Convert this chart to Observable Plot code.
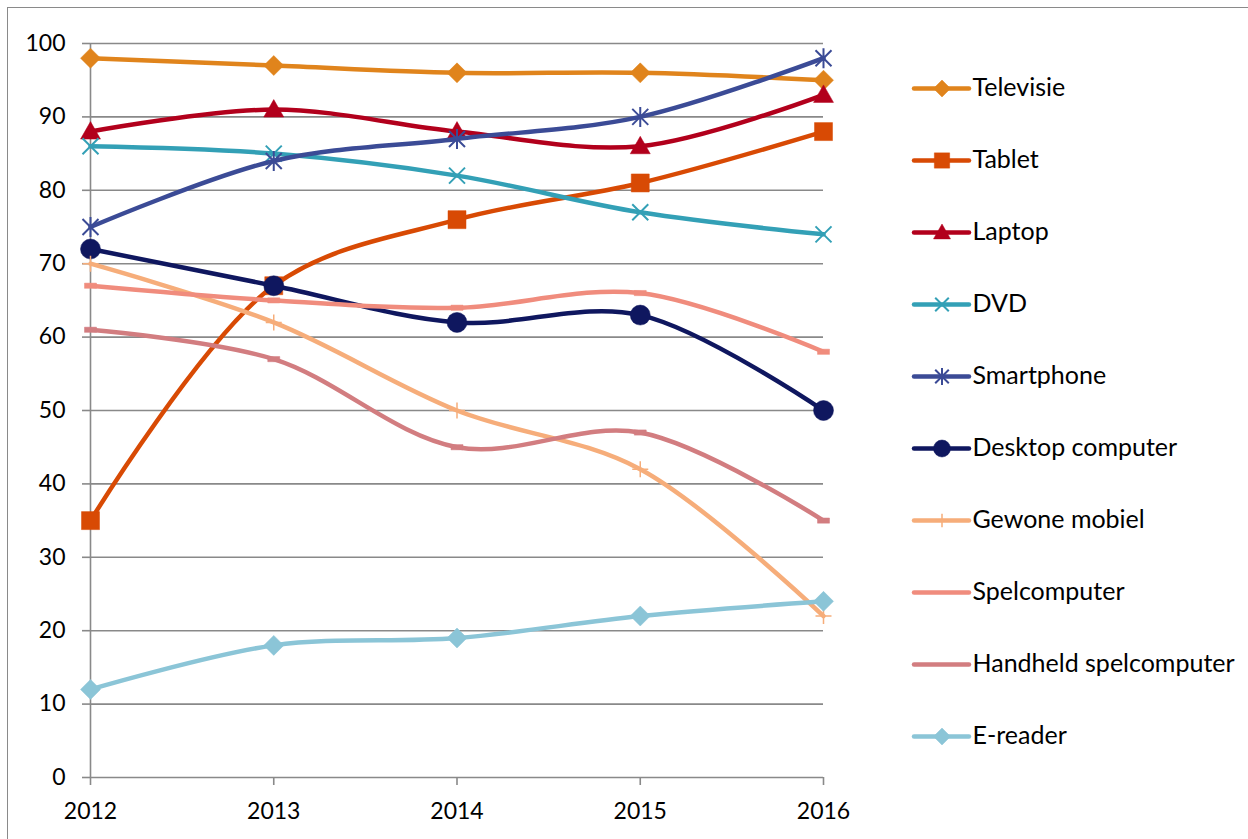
<!DOCTYPE html>
<html>
<head>
<meta charset="utf-8">
<script src="https://cdn.jsdelivr.net/npm/d3@7"></script>
<script src="https://cdn.jsdelivr.net/npm/@observablehq/plot@0.6"></script>
<style>
  html, body { margin: 0; padding: 0; background: #fff; }
  #wrap { position: relative; width: 1248px; height: 839px; overflow: hidden; background: #fff; }
  #frame { position: absolute; left: 7px; top: 7px; width: 1400px; height: 1000px; border-left: 1.5px solid #8a8a8a; border-top: 1.5px solid #8a8a8a; }
  #chart, #legend { position: absolute; top: 0; }
  #chart { left: 0; }
  #legend { left: 880px; }
  svg { font-family: Lato, "Open Sans", sans-serif; }
</style>
</head>
<body>
<div id="wrap"><div id="frame"></div><div id="chart"></div><div id="legend"></div></div>
<script>
// ---- data ----
const years = [2012, 2013, 2014, 2015, 2016];
const seriesNames = ["Televisie", "Tablet", "Laptop", "DVD", "Smartphone", "Desktop computer", "Gewone mobiel", "Spelcomputer", "Handheld spelcomputer", "E-reader"];
const televisie = [98, 97, 96, 96, 95];
const tablet = [35, 67, 76, 81, 88];
const laptop = [88, 91, 88, 86, 93];
const dvd = [86, 85, 82, 77, 74];
const smartphone = [75, 84, 87, 90, 98];
const desktop = [72, 67, 62, 63, 50];
const gewoneMobiel = [70, 62, 50, 42, 22];
const spelcomputer = [67, 65, 64, 66, 58];
const handheld = [61, 57, 45, 47, 35];
const eReader = [12, 18, 19, 22, 24];
const yTicks = [0, 10, 20, 30, 40, 50, 60, 70, 80, 90, 100];
const seriesValues = [televisie, tablet, laptop, dvd, smartphone, desktop, gewoneMobiel, spelcomputer, handheld, eReader];
const seriesColors = ["#E0841C", "#D84A04", "#B2001C", "#33A0B6", "#3B4B96", "#0F175F", "#F6AD7A", "#F08C7D", "#D27D80", "#8BC5D7"];

// ---- custom marker symbols ----
const R = s => Math.sqrt(s / Math.PI);
const diamond = {draw(c, s) { const r = R(s); c.moveTo(0, -r); c.lineTo(r, 0); c.lineTo(0, r); c.lineTo(-r, 0); c.closePath(); }};
const square = {draw(c, s) { const r = R(s); c.rect(-r, -r, 2 * r, 2 * r); }};
const triangle = {draw(c, s) { const r = R(s); c.moveTo(0, -r); c.lineTo(r, r * 0.75); c.lineTo(-r, r * 0.75); c.closePath(); }};
const times = {draw(c, s) { const r = R(s); c.moveTo(-r, -r); c.lineTo(r, r); c.moveTo(r, -r); c.lineTo(-r, r); }};
const asterisk = {draw(c, s) { const r = R(s); c.moveTo(-r, -r); c.lineTo(r, r); c.moveTo(r, -r); c.lineTo(-r, r); c.moveTo(0, -r * 1.25); c.lineTo(0, r * 1.25); }};
const circle = {draw(c, s) { const r = R(s); c.moveTo(r, 0); c.arc(0, 0, r, 0, 2 * Math.PI); }};
const plus = {draw(c, s) { const r = R(s); c.moveTo(-r, 0); c.lineTo(r, 0); c.moveTo(0, -r); c.lineTo(0, r); }};
const dash = {draw(c, s) { const r = R(s); c.rect(-r, -2.6, 2 * r, 5.2); }};

const markerStyle = [
  {symbol: diamond, r: 10, filled: true, legend: true},
  {symbol: square, r: 9, filled: true, legend: true},
  {symbol: triangle, r: 10, filled: true, legend: true},
  {symbol: times, r: 8, filled: false, sw: 2, legend: true},
  {symbol: asterisk, r: 8, filled: false, sw: 2, legend: true},
  {symbol: circle, r: 10, filled: true, legend: true},
  {symbol: plus, r: 8, filled: false, sw: 1.5, legend: true},
  {symbol: dash, r: 6, filled: true, legend: false},
  {symbol: dash, r: 6, filled: true, legend: false},
  {symbol: diamond, r: 10, filled: true, legend: true}
];

const rows = seriesNames.map((name, i) => years.map((year, j) => ({name, year, value: seriesValues[i][j]})));

const FS = 23;
const LFS = 25;
const gridColor = "#898989";

const marks = [
  Plot.ruleY(yTicks, {stroke: gridColor, strokeWidth: 1.6}),
  Plot.ruleX([2012], {y1: 0, y2: 100, stroke: gridColor, strokeWidth: 1.6}),
  Plot.axisY({ticks: yTicks, tickSize: 8, tickPadding: 17, fontSize: FS, stroke: gridColor, strokeWidth: 1.6, strokeOpacity: 1, label: null, fill: "#000"}),
  Plot.axisX({ticks: years, tickFormat: d3.format("d"), tickSize: 8, tickPadding: 17, fontSize: FS, stroke: gridColor, strokeWidth: 1.6, strokeOpacity: 1, label: null, fill: "#000"})
];
rows.forEach((data, i) => {
  const m = markerStyle[i];
  const col = seriesColors[i];
  marks.push(Plot.line(data, {x: "year", y: "value", stroke: col, strokeWidth: 4.5, curve: "catmull-rom", strokeLinecap: "round"}));
  marks.push(Plot.dot(data, {x: "year", y: "value", symbol: m.symbol, r: m.r,
    fill: m.filled ? col : "none", stroke: col, strokeWidth: m.filled ? 0.5 : m.sw}));
});

const chart = Plot.plot({
  width: 1248, height: 839,
  marginLeft: 90, marginRight: 425, marginTop: 43, marginBottom: 62,
  x: {domain: [2012, 2016]},
  y: {domain: [0, 100]},
  style: {background: "transparent", fontFamily: "Lato, 'Open Sans', sans-serif"},
  marks
});
document.getElementById("chart").appendChild(chart);

// ---- legend (separate Plot with its own scales) ----
const legendMarks = [];
seriesNames.forEach((name, i) => {
  const m = markerStyle[i];
  const col = seriesColors[i];
  legendMarks.push(Plot.ruleY([name], {x1: 0, x2: 1, stroke: col, strokeWidth: 4.5, strokeLinecap: "round"}));
  if (m.legend) legendMarks.push(Plot.dot([name], {x: 0.5, y: d => d, symbol: m.symbol, r: m.r * 0.85,
    fill: m.filled ? col : "none", stroke: col, strokeWidth: m.filled ? 0.5 : m.sw}));
  legendMarks.push(Plot.text([name], {x: 1, y: d => d, text: d => d, textAnchor: "start", dx: 3, dy: -1, fontSize: LFS, fill: "#000"}));
});
const legend = Plot.plot({
  width: 368, height: 839,
  marginLeft: 34, marginRight: 279, marginTop: 85, marginBottom: 101,
  x: {domain: [0, 1], axis: null},
  y: {type: "point", domain: seriesNames, padding: 0, axis: null},
  style: {background: "transparent", fontFamily: "Lato, 'Open Sans', sans-serif", overflow: "visible"},
  marks: legendMarks
});
document.getElementById("legend").appendChild(legend);
</script>
</body>
</html>
